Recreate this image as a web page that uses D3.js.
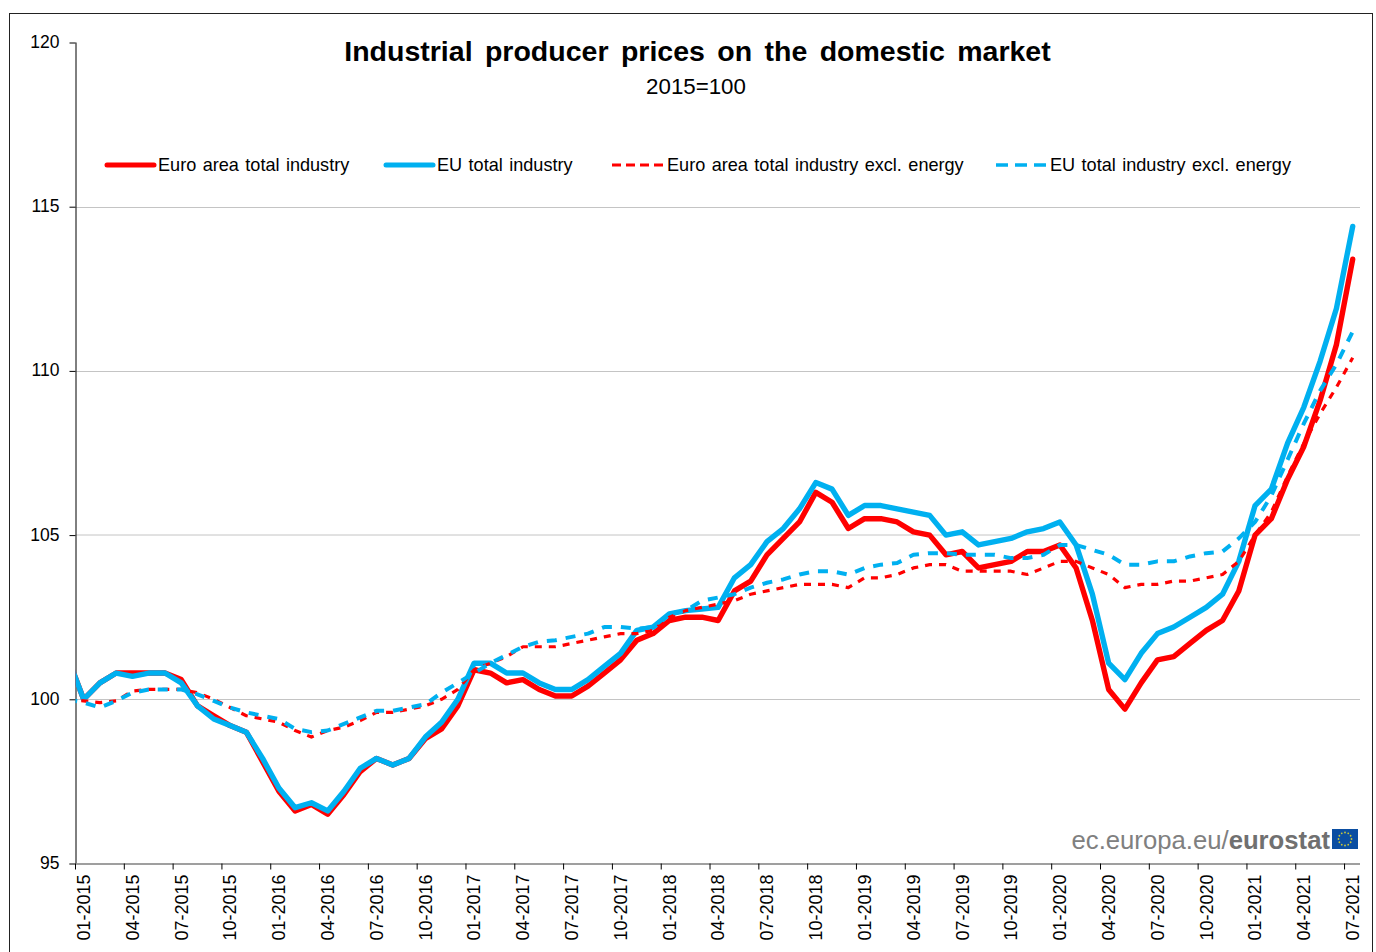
<!DOCTYPE html>
<html><head><meta charset="utf-8">
<script src="https://cdnjs.cloudflare.com/ajax/libs/d3/7.8.5/d3.min.js"></script>
<style>html,body{margin:0;padding:0;background:#fff;overflow:hidden}svg{display:block}text{font-family:"Liberation Sans",Arial,sans-serif;fill:#000}</style>
</head><body><svg id="c" width="1376" height="952"></svg>
<script>
const title = "Industrial producer prices on the domestic market";
const subtitle = "2015=100";
const yTicks = [95,100,105,110,115,120];
const xTickLabels = ["01-2015","04-2015","07-2015","10-2015","01-2016","04-2016","07-2016","10-2016","01-2017","04-2017","07-2017","10-2017","01-2018","04-2018","07-2018","10-2018","01-2019","04-2019","07-2019","10-2019","01-2020","04-2020","07-2020","10-2020","01-2021","04-2021","07-2021"];
// first entry of each series is the month before 01-2015; the axis clips it, as in the source chart
const months = ["12-2014"];
for (let y=2015;y<=2021;y++) for (let m=1;m<=12;m++){ if(y===2021&&m>7) break; months.push(String(m).padStart(2,"0")+"-"+y); }
const euroArea = [101.3,100.0,100.5,100.8,100.8,100.8,100.8,100.6,99.8,99.5,99.2,99.0,98.1,97.2,96.6,96.8,96.5,97.1,97.8,98.2,98.0,98.2,98.8,99.1,99.8,100.9,100.8,100.5,100.6,100.3,100.1,100.1,100.4,100.8,101.2,101.8,102.0,102.4,102.5,102.5,102.4,103.3,103.6,104.4,104.9,105.4,106.3,106.0,105.2,105.5,105.5,105.4,105.1,105.0,104.4,104.5,104.0,104.1,104.2,104.5,104.5,104.7,104.0,102.4,100.3,99.7,100.5,101.2,101.3,101.7,102.1,102.4,103.3,105.0,105.5,106.7,107.7,109.1,110.8,113.4];
const euTotal = [101.3,100.0,100.5,100.8,100.7,100.8,100.8,100.5,99.8,99.4,99.2,99.0,98.2,97.3,96.7,96.85,96.6,97.2,97.9,98.2,98.0,98.2,98.85,99.3,100.0,101.1,101.1,100.8,100.8,100.5,100.3,100.3,100.6,101.0,101.4,102.1,102.2,102.6,102.7,102.75,102.8,103.7,104.1,104.8,105.2,105.8,106.6,106.4,105.6,105.9,105.9,105.8,105.7,105.6,105.0,105.1,104.7,104.8,104.9,105.1,105.2,105.4,104.7,103.2,101.1,100.6,101.4,102.0,102.2,102.5,102.8,103.2,104.2,105.9,106.4,107.8,108.9,110.3,111.9,114.4];
const euroAreaExEnergy = [100.0,99.95,99.9,99.95,100.25,100.3,100.3,100.3,100.2,100.0,99.75,99.5,99.4,99.3,99.05,98.85,99.05,99.15,99.35,99.6,99.6,99.7,99.8,100.0,100.3,100.9,101.1,101.3,101.6,101.6,101.6,101.7,101.8,101.9,102.0,102.0,102.1,102.5,102.7,102.8,102.9,103.0,103.2,103.3,103.4,103.5,103.5,103.5,103.4,103.7,103.7,103.8,104.0,104.1,104.1,103.9,103.9,103.9,103.9,103.8,104.0,104.2,104.2,104.0,103.8,103.4,103.5,103.5,103.6,103.6,103.7,103.8,104.2,105.0,105.7,106.8,107.8,108.7,109.5,110.4];
const euExEnergy = [100.0,99.9,99.75,99.95,100.2,100.3,100.3,100.3,100.15,99.95,99.75,99.6,99.5,99.4,99.1,99.0,99.05,99.25,99.45,99.65,99.65,99.75,99.85,100.2,100.5,100.8,101.1,101.35,101.6,101.75,101.8,101.9,102.0,102.2,102.2,102.15,102.2,102.6,102.7,103.0,103.1,103.2,103.4,103.55,103.65,103.8,103.9,103.9,103.8,104.0,104.1,104.15,104.4,104.45,104.45,104.4,104.4,104.4,104.3,104.3,104.4,104.7,104.7,104.55,104.4,104.1,104.1,104.2,104.2,104.35,104.45,104.5,104.9,105.4,106.2,107.3,108.4,109.4,110.2,111.2];
const seriesNames = ["Euro area total industry","EU total industry","Euro area total industry excl. energy","EU total industry excl. energy"];
const RED="#ff0000", BLUE="#00b0f0";

const svg = d3.select("#c");
const plot = {l:75.5, r:1360, t:42.5, b:863.5};
const step = 16.27;
const x = d3.scaleBand().domain(months).range([plot.l-step, plot.l-step+step*months.length]).paddingInner(0).paddingOuter(0);
const y = d3.scaleLinear().domain([95,120]).range([plot.b,plot.t]);
const cx = m => x(m)+x.bandwidth()/2;

// frame
svg.append("rect").attr("x",9.5).attr("y",13.5).attr("width",1363).attr("height",960).attr("fill","#fff").attr("stroke","#222").attr("stroke-width",1);

svg.append("defs").append("clipPath").attr("id","pc").append("rect")
  .attr("x",plot.l).attr("y",plot.t-5).attr("width",plot.r-plot.l+4).attr("height",plot.b-plot.t+10);

// grid
const gridY = d => d===105 ? 535 : Math.round(y(d))+.5;
svg.append("g").selectAll("line").data(yTicks.filter(d=>d>95&&d<120)).join("line")
  .attr("x1",plot.l).attr("x2",plot.r).attr("y1",gridY).attr("y2",gridY)
  .attr("stroke","#c4c4c4").attr("stroke-width",1);

// y axis
const yAxis = svg.append("g").attr("transform",`translate(${plot.l},0)`)
  .call(d3.axisLeft(y).tickValues(yTicks).tickFormat(d3.format("d")).tickSize(6).tickPadding(10));
yAxis.selectAll("text").style("font-size","17.5px").attr("fill","#000").attr("dy","0.28em");
yAxis.select(".domain").attr("stroke","#000").attr("d",`M0.5,${plot.t}V${plot.b}`);
yAxis.selectAll(".tick line").attr("stroke","#000");

// x axis
const xAxis = svg.append("g").attr("transform",`translate(0,${plot.b})`)
  .call(d3.axisBottom(x).tickValues(xTickLabels).tickSize(0).tickPadding(0));
xAxis.select(".domain").attr("stroke","#7f7f7f").attr("stroke-width",1.5).attr("d",`M${plot.l-6},0.5H${plot.r}`);
xAxis.selectAll(".tick text")
  .attr("transform","translate(0,11) rotate(-90)").attr("x",0).attr("y",0).attr("dy","0.35em")
  .attr("text-anchor","end").style("font-size","18px").attr("fill","#000");
xAxis.selectAll(".tick line").remove();
svg.append("g").selectAll("line").data(xTickLabels).join("line")
  .attr("x1",d=>x(d)).attr("x2",d=>x(d)).attr("y1",plot.b).attr("y2",plot.b+6).attr("stroke","#000");

// lines
const line = arr => d3.line().x((d,i)=>cx(months[i])).y(d=>y(d))(arr);
const lines = [
  {v:euroArea,c:RED,w:5.4,dash:null},
  {v:euTotal,c:BLUE,w:5.4,dash:null},
  {v:euroAreaExEnergy,c:RED,w:3.2,dash:"7 7"},
  {v:euExEnergy,c:BLUE,w:4,dash:"10 9"}
];
svg.append("g").attr("clip-path","url(#pc)").selectAll("path").data(lines).join("path")
  .attr("d",d=>line(d.v)).attr("fill","none").attr("stroke",d=>d.c).attr("stroke-width",d=>d.w)
  .attr("stroke-dasharray",d=>d.dash).attr("stroke-linejoin","round").attr("stroke-linecap",d=>d.dash?"butt":"round");

// title
svg.append("text").attr("x",697.5).attr("y",61).attr("text-anchor","middle")
  .style("font-size","28.5px").style("font-weight","700").style("word-spacing","4.5px").text(title);
svg.append("text").attr("x",696).attr("y",94).attr("text-anchor","middle").style("font-size","22.3px").text(subtitle);

// legend
const legend = [
  {x1:107,x2:154,tx:158,c:RED,w:5,dash:null,n:seriesNames[0]},
  {x1:386,x2:433,tx:437,c:BLUE,w:5,dash:null,n:seriesNames[1]},
  {x1:612,x2:663,tx:667,c:RED,w:3,dash:"9 5",n:seriesNames[2]},
  {x1:996,x2:1046,tx:1050,c:BLUE,w:3.6,dash:"12 7",n:seriesNames[3]}
];
const lg = svg.append("g").selectAll("g").data(legend).join("g");
lg.append("line").attr("x1",d=>d.x1).attr("x2",d=>d.x2).attr("y1",165).attr("y2",165)
  .attr("stroke",d=>d.c).attr("stroke-width",d=>d.w).attr("stroke-dasharray",d=>d.dash).attr("stroke-linecap",d=>d.dash?"butt":"round");
lg.append("text").attr("x",d=>d.tx).attr("y",171).style("font-size","18.1px").style("word-spacing","1.4px").text(d=>d.n);

// eurostat mark
const wm = svg.append("text").attr("x",1330).attr("y",849).attr("text-anchor","end").style("font-size","25.7px");
wm.append("tspan").style("fill","#808080").text("ec.europa.eu/");
wm.append("tspan").style("fill","#707070").style("font-weight","700").text("eurostat");
svg.append("rect").attr("x",1332).attr("y",829).attr("width",26).attr("height",20).attr("fill","#0b4ea2");
const starAngles = d3.range(12).map(i=>i*Math.PI/6);
svg.append("g").selectAll("circle").data(starAngles).join("circle")
  .attr("cx",a=>1345+6.5*Math.cos(a)).attr("cy",a=>839+6.5*Math.sin(a)).attr("r",0.9).attr("fill","#c9c93a");
</script></body></html>
